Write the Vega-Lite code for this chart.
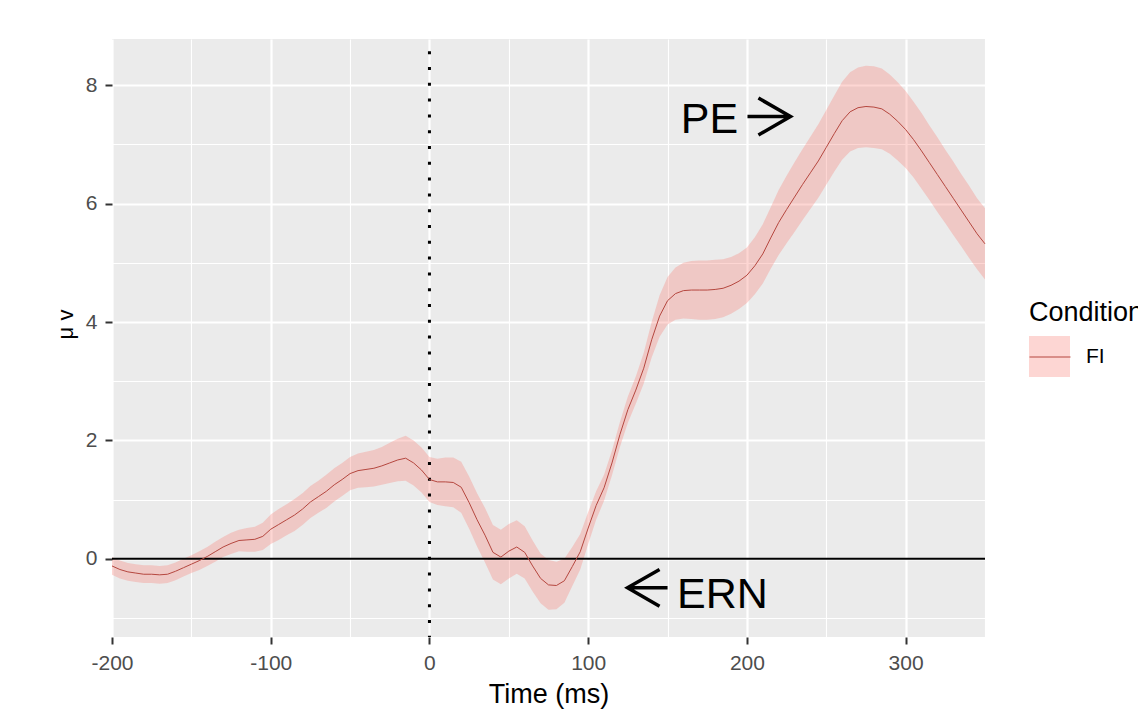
{
  "$schema": "https://vega.github.io/schema/vega-lite/v6.json",
  "width": 873,
  "height": 598,
  "autosize": {"type": "none"},
  "padding": {"left": 112, "top": 39, "right": 153, "bottom": 75},
  "background": "white",
  "config": {
    "view": {"fill": "#EBEBEB", "stroke": null},
    "font": "Liberation Sans",
    "axis": {
      "domain": false,
      "gridColor": "white",
      "tickColor": "#333333",
      "tickSize": 7,
      "tickWidth": 2,
      "labelColor": "#4D4D4D",
      "labelFontSize": 21,
      "labelFont": "Liberation Sans",
      "titleFont": "Liberation Sans",
      "titleFontSize": 27,
      "titleFontWeight": "normal",
      "titleColor": "black"
    }
  },
  "datasets": {
    "erp": [
      {"time": -200, "mean": -0.12, "lower": -0.27, "upper": 0.03, "Condition": "FI"},
      {"time": -195, "mean": -0.18, "lower": -0.33, "upper": -0.03, "Condition": "FI"},
      {"time": -190, "mean": -0.22, "lower": -0.37, "upper": -0.07, "Condition": "FI"},
      {"time": -185, "mean": -0.24, "lower": -0.39, "upper": -0.09, "Condition": "FI"},
      {"time": -180, "mean": -0.26, "lower": -0.41, "upper": -0.11, "Condition": "FI"},
      {"time": -175, "mean": -0.26, "lower": -0.41, "upper": -0.11, "Condition": "FI"},
      {"time": -170, "mean": -0.27, "lower": -0.42, "upper": -0.12, "Condition": "FI"},
      {"time": -165, "mean": -0.26, "lower": -0.41, "upper": -0.11, "Condition": "FI"},
      {"time": -160, "mean": -0.21, "lower": -0.36, "upper": -0.06, "Condition": "FI"},
      {"time": -155, "mean": -0.15, "lower": -0.30, "upper": 0.00, "Condition": "FI"},
      {"time": -150, "mean": -0.09, "lower": -0.24, "upper": 0.06, "Condition": "FI"},
      {"time": -145, "mean": -0.03, "lower": -0.19, "upper": 0.13, "Condition": "FI"},
      {"time": -140, "mean": 0.04, "lower": -0.12, "upper": 0.20, "Condition": "FI"},
      {"time": -135, "mean": 0.12, "lower": -0.05, "upper": 0.29, "Condition": "FI"},
      {"time": -130, "mean": 0.20, "lower": 0.03, "upper": 0.37, "Condition": "FI"},
      {"time": -125, "mean": 0.26, "lower": 0.08, "upper": 0.44, "Condition": "FI"},
      {"time": -120, "mean": 0.31, "lower": 0.13, "upper": 0.49, "Condition": "FI"},
      {"time": -115, "mean": 0.32, "lower": 0.12, "upper": 0.52, "Condition": "FI"},
      {"time": -110, "mean": 0.33, "lower": 0.12, "upper": 0.54, "Condition": "FI"},
      {"time": -105, "mean": 0.38, "lower": 0.15, "upper": 0.61, "Condition": "FI"},
      {"time": -100, "mean": 0.50, "lower": 0.25, "upper": 0.75, "Condition": "FI"},
      {"time": -95, "mean": 0.58, "lower": 0.32, "upper": 0.84, "Condition": "FI"},
      {"time": -90, "mean": 0.66, "lower": 0.40, "upper": 0.92, "Condition": "FI"},
      {"time": -85, "mean": 0.74, "lower": 0.47, "upper": 1.01, "Condition": "FI"},
      {"time": -80, "mean": 0.84, "lower": 0.57, "upper": 1.11, "Condition": "FI"},
      {"time": -75, "mean": 0.96, "lower": 0.69, "upper": 1.23, "Condition": "FI"},
      {"time": -70, "mean": 1.05, "lower": 0.78, "upper": 1.32, "Condition": "FI"},
      {"time": -65, "mean": 1.14, "lower": 0.86, "upper": 1.42, "Condition": "FI"},
      {"time": -60, "mean": 1.25, "lower": 0.97, "upper": 1.53, "Condition": "FI"},
      {"time": -55, "mean": 1.34, "lower": 1.06, "upper": 1.62, "Condition": "FI"},
      {"time": -50, "mean": 1.44, "lower": 1.16, "upper": 1.72, "Condition": "FI"},
      {"time": -45, "mean": 1.49, "lower": 1.20, "upper": 1.78, "Condition": "FI"},
      {"time": -40, "mean": 1.51, "lower": 1.21, "upper": 1.81, "Condition": "FI"},
      {"time": -35, "mean": 1.53, "lower": 1.22, "upper": 1.84, "Condition": "FI"},
      {"time": -30, "mean": 1.57, "lower": 1.25, "upper": 1.89, "Condition": "FI"},
      {"time": -25, "mean": 1.62, "lower": 1.28, "upper": 1.96, "Condition": "FI"},
      {"time": -20, "mean": 1.67, "lower": 1.31, "upper": 2.03, "Condition": "FI"},
      {"time": -15, "mean": 1.70, "lower": 1.32, "upper": 2.08, "Condition": "FI"},
      {"time": -10, "mean": 1.62, "lower": 1.24, "upper": 2.00, "Condition": "FI"},
      {"time": -5, "mean": 1.50, "lower": 1.12, "upper": 1.88, "Condition": "FI"},
      {"time": 0, "mean": 1.34, "lower": 0.96, "upper": 1.72, "Condition": "FI"},
      {"time": 5, "mean": 1.30, "lower": 0.91, "upper": 1.69, "Condition": "FI"},
      {"time": 10, "mean": 1.30, "lower": 0.89, "upper": 1.71, "Condition": "FI"},
      {"time": 15, "mean": 1.29, "lower": 0.87, "upper": 1.71, "Condition": "FI"},
      {"time": 20, "mean": 1.21, "lower": 0.78, "upper": 1.64, "Condition": "FI"},
      {"time": 25, "mean": 0.95, "lower": 0.51, "upper": 1.39, "Condition": "FI"},
      {"time": 30, "mean": 0.66, "lower": 0.21, "upper": 1.11, "Condition": "FI"},
      {"time": 35, "mean": 0.40, "lower": -0.06, "upper": 0.86, "Condition": "FI"},
      {"time": 40, "mean": 0.11, "lower": -0.35, "upper": 0.57, "Condition": "FI"},
      {"time": 45, "mean": 0.03, "lower": -0.43, "upper": 0.49, "Condition": "FI"},
      {"time": 50, "mean": 0.13, "lower": -0.33, "upper": 0.59, "Condition": "FI"},
      {"time": 55, "mean": 0.20, "lower": -0.25, "upper": 0.65, "Condition": "FI"},
      {"time": 60, "mean": 0.11, "lower": -0.33, "upper": 0.55, "Condition": "FI"},
      {"time": 65, "mean": -0.12, "lower": -0.55, "upper": 0.31, "Condition": "FI"},
      {"time": 70, "mean": -0.33, "lower": -0.75, "upper": 0.09, "Condition": "FI"},
      {"time": 75, "mean": -0.44, "lower": -0.86, "upper": -0.02, "Condition": "FI"},
      {"time": 80, "mean": -0.45, "lower": -0.85, "upper": -0.05, "Condition": "FI"},
      {"time": 85, "mean": -0.37, "lower": -0.74, "upper": 0.00, "Condition": "FI"},
      {"time": 90, "mean": -0.13, "lower": -0.46, "upper": 0.20, "Condition": "FI"},
      {"time": 95, "mean": 0.12, "lower": -0.18, "upper": 0.42, "Condition": "FI"},
      {"time": 100, "mean": 0.52, "lower": 0.25, "upper": 0.79, "Condition": "FI"},
      {"time": 105, "mean": 0.90, "lower": 0.66, "upper": 1.14, "Condition": "FI"},
      {"time": 110, "mean": 1.20, "lower": 0.98, "upper": 1.42, "Condition": "FI"},
      {"time": 115, "mean": 1.62, "lower": 1.41, "upper": 1.83, "Condition": "FI"},
      {"time": 120, "mean": 2.10, "lower": 1.89, "upper": 2.31, "Condition": "FI"},
      {"time": 125, "mean": 2.52, "lower": 2.30, "upper": 2.74, "Condition": "FI"},
      {"time": 130, "mean": 2.85, "lower": 2.62, "upper": 3.08, "Condition": "FI"},
      {"time": 135, "mean": 3.22, "lower": 2.96, "upper": 3.48, "Condition": "FI"},
      {"time": 140, "mean": 3.70, "lower": 3.40, "upper": 4.00, "Condition": "FI"},
      {"time": 145, "mean": 4.10, "lower": 3.75, "upper": 4.45, "Condition": "FI"},
      {"time": 150, "mean": 4.36, "lower": 3.96, "upper": 4.76, "Condition": "FI"},
      {"time": 155, "mean": 4.48, "lower": 4.04, "upper": 4.92, "Condition": "FI"},
      {"time": 160, "mean": 4.53, "lower": 4.06, "upper": 5.00, "Condition": "FI"},
      {"time": 165, "mean": 4.54, "lower": 4.05, "upper": 5.03, "Condition": "FI"},
      {"time": 170, "mean": 4.54, "lower": 4.04, "upper": 5.04, "Condition": "FI"},
      {"time": 175, "mean": 4.54, "lower": 4.04, "upper": 5.04, "Condition": "FI"},
      {"time": 180, "mean": 4.55, "lower": 4.05, "upper": 5.05, "Condition": "FI"},
      {"time": 185, "mean": 4.57, "lower": 4.08, "upper": 5.06, "Condition": "FI"},
      {"time": 190, "mean": 4.62, "lower": 4.14, "upper": 5.10, "Condition": "FI"},
      {"time": 195, "mean": 4.69, "lower": 4.22, "upper": 5.16, "Condition": "FI"},
      {"time": 200, "mean": 4.79, "lower": 4.32, "upper": 5.26, "Condition": "FI"},
      {"time": 205, "mean": 4.95, "lower": 4.47, "upper": 5.43, "Condition": "FI"},
      {"time": 210, "mean": 5.15, "lower": 4.65, "upper": 5.65, "Condition": "FI"},
      {"time": 215, "mean": 5.42, "lower": 4.90, "upper": 5.94, "Condition": "FI"},
      {"time": 220, "mean": 5.68, "lower": 5.13, "upper": 6.23, "Condition": "FI"},
      {"time": 225, "mean": 5.90, "lower": 5.33, "upper": 6.47, "Condition": "FI"},
      {"time": 230, "mean": 6.11, "lower": 5.52, "upper": 6.70, "Condition": "FI"},
      {"time": 235, "mean": 6.32, "lower": 5.72, "upper": 6.92, "Condition": "FI"},
      {"time": 240, "mean": 6.52, "lower": 5.91, "upper": 7.13, "Condition": "FI"},
      {"time": 245, "mean": 6.72, "lower": 6.10, "upper": 7.34, "Condition": "FI"},
      {"time": 250, "mean": 6.95, "lower": 6.32, "upper": 7.58, "Condition": "FI"},
      {"time": 255, "mean": 7.18, "lower": 6.54, "upper": 7.82, "Condition": "FI"},
      {"time": 260, "mean": 7.40, "lower": 6.74, "upper": 8.06, "Condition": "FI"},
      {"time": 265, "mean": 7.55, "lower": 6.88, "upper": 8.22, "Condition": "FI"},
      {"time": 270, "mean": 7.62, "lower": 6.94, "upper": 8.30, "Condition": "FI"},
      {"time": 275, "mean": 7.64, "lower": 6.95, "upper": 8.33, "Condition": "FI"},
      {"time": 280, "mean": 7.63, "lower": 6.94, "upper": 8.32, "Condition": "FI"},
      {"time": 285, "mean": 7.60, "lower": 6.92, "upper": 8.28, "Condition": "FI"},
      {"time": 290, "mean": 7.51, "lower": 6.84, "upper": 8.18, "Condition": "FI"},
      {"time": 295, "mean": 7.39, "lower": 6.73, "upper": 8.05, "Condition": "FI"},
      {"time": 300, "mean": 7.25, "lower": 6.60, "upper": 7.90, "Condition": "FI"},
      {"time": 305, "mean": 7.08, "lower": 6.44, "upper": 7.72, "Condition": "FI"},
      {"time": 310, "mean": 6.89, "lower": 6.25, "upper": 7.53, "Condition": "FI"},
      {"time": 315, "mean": 6.69, "lower": 6.06, "upper": 7.32, "Condition": "FI"},
      {"time": 320, "mean": 6.49, "lower": 5.86, "upper": 7.12, "Condition": "FI"},
      {"time": 325, "mean": 6.29, "lower": 5.67, "upper": 6.91, "Condition": "FI"},
      {"time": 330, "mean": 6.09, "lower": 5.47, "upper": 6.71, "Condition": "FI"},
      {"time": 335, "mean": 5.89, "lower": 5.28, "upper": 6.50, "Condition": "FI"},
      {"time": 340, "mean": 5.69, "lower": 5.08, "upper": 6.30, "Condition": "FI"},
      {"time": 345, "mean": 5.49, "lower": 4.89, "upper": 6.09, "Condition": "FI"},
      {"time": 350, "mean": 5.32, "lower": 4.72, "upper": 5.92, "Condition": "FI"}
    ],
    "notes": [
      {"time": 176.4, "uv": 7.2, "label": "PE"},
      {"time": 184.6, "uv": -0.825, "label": "ERN"}
    ],
    "arrowRight": [
      {"time": 213.9, "uv": 7.47}
    ],
    "arrowLeft": [
      {"time": 137.4, "uv": -0.49}
    ],
    "refs": [
      {"time": 0, "uv": 0}
    ]
  },
  "layer": [
    {
      "data": {"name": "erp"},
      "mark": {"type": "area", "opacity": 0.3},
      "encoding": {
        "x": {
          "field": "time", "type": "quantitative",
          "scale": {"domain": [-200, 350], "nice": false, "zero": false},
          "axis": {
            "title": "Time (ms)",
            "values": [-200, -150, -100, -50, 0, 50, 100, 150, 200, 250, 300, 350],
            "labelExpr": "datum.value % 100 === 0 ? '' + datum.value : ''",
            "gridWidth": {"condition": {"test": "datum.value % 100 === 0", "value": 2.2}, "value": 1.1},
            "tickOpacity": {"condition": {"test": "datum.value % 100 === 0", "value": 1}, "value": 0},
            "labelPadding": 8,
            "labelFlush": false,
            "titlePadding": 8
          }
        },
        "y": {
          "field": "lower", "type": "quantitative",
          "scale": {"domain": [-1.32, 8.78], "nice": false, "zero": false},
          "axis": {
            "title": "μ v",
            "values": [-1, 0, 1, 2, 3, 4, 5, 6, 7, 8],
            "labelExpr": "datum.value % 2 === 0 ? '' + datum.value : ''",
            "gridWidth": {"condition": {"test": "datum.value % 2 === 0", "value": 2.2}, "value": 1.1},
            "tickOpacity": {"condition": {"test": "datum.value % 2 === 0", "value": 1}, "value": 0},
            "labelPadding": 8,
            "labelFlush": false,
            "titleFontSize": 22,
            "titlePadding": 8,
            "titleY": 285
          }
        },
        "y2": {"field": "upper"},
        "fill": {
          "field": "Condition", "type": "nominal",
          "scale": {"domain": ["FI"], "range": ["#F8766D"]},
          "legend": {
            "orient": "none", "legendX": 917, "legendY": 261,
            "title": "Condition", "titleFontSize": 27, "titleFontWeight": "normal", "titleColor": "black",
            "titlePadding": 9,
            "labelFontSize": 21, "labelColor": "black", "labelOffset": 16,
            "symbolType": "square", "symbolSize": 1681, "symbolOpacity": 0.3, "symbolStrokeWidth": 0
          }
        }
      }
    },
    {
      "data": {"name": "refs"},
      "mark": {"type": "rule", "color": "black", "strokeWidth": 2},
      "encoding": {"y": {"field": "uv", "type": "quantitative"}}
    },
    {
      "data": {"name": "refs"},
      "mark": {"type": "rule", "color": "black", "strokeWidth": 3, "strokeDash": [3, 12.8], "strokeDashOffset": 3.6},
      "encoding": {"x": {"field": "time", "type": "quantitative"}}
    },
    {
      "data": {"name": "erp"},
      "mark": {"type": "line", "strokeWidth": 1},
      "encoding": {
        "x": {"field": "time", "type": "quantitative"},
        "y": {"field": "mean", "type": "quantitative"},
        "stroke": {
          "field": "Condition", "type": "nominal",
          "scale": {"range": ["#B5473F"]},
          "legend": {
            "orient": "none", "legendX": 917, "legendY": 261,
            "title": "Condition", "titleFontSize": 27, "titleFontWeight": "normal", "titleOpacity": 0,
            "titlePadding": 9,
            "labelFontSize": 21, "labelOpacity": 0, "labelOffset": 16,
            "symbolType": "stroke", "symbolSize": 1681, "symbolStrokeWidth": 1
          }
        }
      }
    },
    {
      "data": {"name": "notes"},
      "mark": {"type": "text", "font": "Liberation Sans", "fontSize": 43, "color": "black", "align": "center", "baseline": "alphabetic"},
      "encoding": {
        "x": {"field": "time", "type": "quantitative"},
        "y": {"field": "uv", "type": "quantitative"},
        "text": {"field": "label"}
      }
    },
    {
      "data": {"name": "arrowRight"},
      "mark": {"type": "point", "shape": "M-1,0L1,0M-0.49,-0.86L1,0L-0.49,0.86", "size": 1849, "filled": false, "stroke": "black", "strokeWidth": 3.5, "opacity": 1},
      "encoding": {
        "x": {"field": "time", "type": "quantitative"},
        "y": {"field": "uv", "type": "quantitative"}
      }
    },
    {
      "data": {"name": "arrowLeft"},
      "mark": {"type": "point", "shape": "M1,0L-1,0M0.6,-0.92L-1,0L0.6,0.92", "size": 1600, "filled": false, "stroke": "black", "strokeWidth": 3.5, "opacity": 1},
      "encoding": {
        "x": {"field": "time", "type": "quantitative"},
        "y": {"field": "uv", "type": "quantitative"}
      }
    }
  ]
}
